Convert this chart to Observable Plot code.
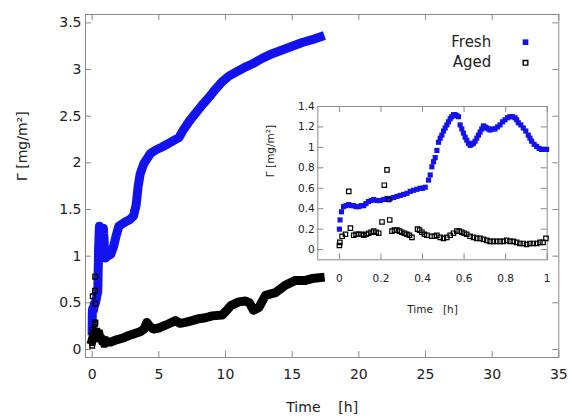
<!DOCTYPE html>
<html><head><meta charset="utf-8">
<script src="https://cdn.jsdelivr.net/npm/d3@7"></script>
<script src="https://cdn.jsdelivr.net/npm/@observablehq/plot@0.6"></script>
<style>
body{margin:0;background:#fff;}
#wrap{position:relative;width:571px;height:416px;font-family:"DejaVu Sans",sans-serif;}
#inset{position:absolute;left:260px;top:95px;}
</style></head><body><div id="wrap"><div id="main"></div><div id="inset"></div></div>
<script>
// ---- data ----
const seriesNames = ["Fresh", "Aged"];
const mainXTicks = [0, 5, 10, 15, 20, 25, 30, 35];
const mainYTicks = [0, 0.5, 1, 1.5, 2, 2.5, 3, 3.5];
const insetXTicks = [0, 0.2, 0.4, 0.6, 0.8, 1];
const insetYTicks = [0, 0.2, 0.4, 0.6, 0.8, 1, 1.2, 1.4];

// first hour (inset), time in h, Γ in mg/m²
const freshEarlyT = [0,0.003,0.01,0.02,0.032,0.045,0.057,0.068,0.08,0.093,0.105,0.117,0.128,0.14,0.153,0.165,0.18,0.197,0.213,0.229,0.245,0.261,0.277,0.293,0.309,0.325,0.341,0.357,0.373,0.389,0.40,0.413,0.429,0.437,0.445,0.453,0.461,0.469,0.477,0.485,0.493,0.501,0.509,0.517,0.525,0.533,0.541,0.549,0.557,0.565,0.573,0.581,0.589,0.597,0.605,0.613,0.621,0.629,0.637,0.645,0.653,0.661,0.669,0.677,0.685,0.693,0.701,0.709,0.717,0.725,0.737,0.749,0.761,0.773,0.785,0.797,0.809,0.821,0.833,0.845,0.853,0.861,0.873,0.885,0.897,0.909,0.917,0.925,0.937,0.949,0.961,0.973,0.985,0.997];
const freshEarlyV = [0.20,0.29,0.37,0.42,0.43,0.44,0.43,0.43,0.42,0.42,0.43,0.43,0.45,0.47,0.48,0.49,0.48,0.48,0.49,0.50,0.50,0.51,0.52,0.53,0.54,0.55,0.57,0.58,0.59,0.60,0.60,0.61,0.68,0.73,0.81,0.86,0.90,0.97,1.05,1.09,1.12,1.16,1.19,1.22,1.25,1.28,1.30,1.32,1.32,1.31,1.30,1.22,1.18,1.14,1.10,1.07,1.04,1.02,1.03,1.04,1.06,1.09,1.12,1.15,1.18,1.21,1.20,1.19,1.18,1.17,1.18,1.18,1.20,1.22,1.25,1.27,1.29,1.30,1.30,1.29,1.27,1.24,1.22,1.19,1.16,1.12,1.09,1.06,1.03,1.01,0.99,0.98,0.98,0.98];

const agedEarlyT = [0,0.002,0.013,0.029,0.045,0.053,0.069,0.08,0.093,0.105,0.117,0.13,0.141,0.153,0.165,0.177,0.189,0.205,0.216,0.229,0.237,0.242,0.253,0.265,0.277,0.289,0.3,0.313,0.325,0.337,0.349,0.376,0.386,0.397,0.409,0.421,0.445,0.457,0.469,0.485,0.501,0.517,0.533,0.549,0.565,0.577,0.589,0.601,0.613,0.629,0.645,0.661,0.677,0.693,0.709,0.725,0.741,0.757,0.773,0.789,0.805,0.821,0.837,0.853,0.869,0.885,0.901,0.917,0.933,0.949,0.965,0.98,0.994];
const agedEarlyV = [0.04,0.07,0.13,0.15,0.57,0.21,0.14,0.15,0.15,0.15,0.14,0.15,0.16,0.17,0.18,0.17,0.16,0.27,0.63,0.78,0.49,0.29,0.18,0.19,0.19,0.18,0.17,0.16,0.15,0.14,0.12,0.20,0.19,0.17,0.15,0.14,0.13,0.13,0.14,0.12,0.11,0.12,0.14,0.16,0.18,0.18,0.17,0.16,0.15,0.13,0.12,0.11,0.11,0.10,0.09,0.08,0.08,0.08,0.08,0.08,0.09,0.08,0.08,0.07,0.06,0.06,0.05,0.06,0.06,0.06,0.07,0.07,0.11];

// full run (main panel)
const freshLateT = [1.15,1.4,1.6,1.8,2.0,2.4,2.8,3.1,3.3,3.45,3.6,3.87,4.37,4.8,5.25,6.0,6.5,6.87,7.3,7.75,8.25,8.75,9.25,9.75,10.25,10.75,11.4,12.0,12.75,13.5,14.25,15.0,15.75,16.5,17.1];
const freshLateV = [1.0,1.02,1.1,1.22,1.32,1.36,1.39,1.43,1.55,1.75,1.88,1.99,2.10,2.14,2.17,2.23,2.27,2.36,2.45,2.53,2.62,2.70,2.79,2.87,2.93,2.97,3.02,3.06,3.12,3.17,3.21,3.25,3.29,3.32,3.35];

const agedRunT = [0,0.1,0.3,0.6,1.0,1.4,1.75,2.25,2.75,3.2,3.6,3.9,4.1,4.3,4.6,5.0,5.5,6.25,6.6,7.0,7.5,8.0,8.5,9.0,9.75,10.1,10.4,11.0,11.5,11.8,12.1,12.5,13.0,13.75,14.5,15.25,16.0,16.5,17.1];
const agedRunV = [0.1,0.15,0.17,0.13,0.08,0.08,0.10,0.12,0.15,0.17,0.19,0.22,0.29,0.25,0.22,0.23,0.26,0.31,0.28,0.29,0.31,0.33,0.34,0.36,0.37,0.42,0.47,0.51,0.52,0.50,0.42,0.45,0.58,0.61,0.69,0.74,0.74,0.76,0.77];

// ---- tables ----
const pts = (T, V) => T.map((t, i) => ({t, v: V[i]}));
const freshEarly = pts(freshEarlyT, freshEarlyV);
const agedEarly = pts(agedEarlyT, agedEarlyV);
const freshRun = freshEarly.concat(pts(freshLateT, freshLateV));
const agedRun = pts(agedRunT, agedRunV);

const BLUE = "#1212ee";
const FRAME = "#8a8a8a";
const TXT = "#222";
const FONT = "DejaVu Sans";

// ---- main chart ----
const W = 571, H = 416, mL = 85, mR = 12.7, mT = 14, mB = 59;
const pW = W - mL - mR, pH = H - mT - mB;
const main = Plot.plot({
  width: W, height: H,
  marginLeft: mL, marginRight: mR, marginTop: mT, marginBottom: mB,
  style: {fontFamily: FONT, fontSize: "14px", color: TXT, background: "transparent"},
  x: {domain: [-0.5, 35]},
  y: {domain: [-0.086, 3.59]},
  marks: [
    Plot.axisX({ticks: mainXTicks, tickSize: 0, tickPadding: 12, tickFormat: d => String(d), label: null, fontSize: 14, fill: TXT}),
    Plot.axisY({ticks: mainYTicks, tickSize: 0, tickPadding: 4, tickFormat: d => String(d), label: null, fontSize: 14, fill: TXT}),
    Plot.ruleY(mainYTicks, {y: d => d, insetRight: pW - 6, stroke: FRAME}),
    Plot.ruleY(mainYTicks, {y: d => d, insetLeft: pW - 6, stroke: FRAME}),
    Plot.ruleX(mainXTicks, {x: d => d, insetTop: pH - 6, stroke: FRAME}),
    Plot.ruleX(mainXTicks, {x: d => d, insetBottom: pH - 6, stroke: FRAME}),
    Plot.frame({stroke: FRAME}),
    Plot.line(freshRun, {x: "t", y: "v", stroke: BLUE, strokeWidth: 9, strokeLinejoin: "round", strokeLinecap: "square"}),
    Plot.line(agedRun, {x: "t", y: "v", stroke: "black", strokeWidth: 9, strokeLinejoin: "round", strokeLinecap: "square"}),
    Plot.dot(agedEarly, {x: "t", y: "v", symbol: "square", r: 2.6, stroke: "black", strokeWidth: 1.4, fill: "none"}),
    Plot.text(["Time\u00a0\u00a0\u00a0\u00a0[h]"], {text: d => d, frameAnchor: "bottom", dy: 50, lineAnchor: "middle", fontSize: 14, fill: TXT}),
    Plot.text(["\u0393 [mg/m\u00b2]"], {text: d => d, frameAnchor: "left", dx: -63, dy: -5, rotate: -90, lineAnchor: "middle", fontSize: 14, fill: TXT}),
    Plot.text([seriesNames[0]], {text: d => d, frameAnchor: "top-right", dx: -67.6, dy: 28, textAnchor: "end", lineAnchor: "middle", fontSize: 15, fill: TXT}),
    Plot.text([seriesNames[1]], {text: d => d, frameAnchor: "top-right", dx: -67.6, dy: 47.7, textAnchor: "end", lineAnchor: "middle", fontSize: 15, fill: TXT}),
    Plot.dot([seriesNames[0]], {frameAnchor: "top-right", dx: -33.3, dy: 27.7, symbol: "square", r: 3.2, fill: BLUE}),
    Plot.dot([seriesNames[1]], {frameAnchor: "top-right", dx: -33.3, dy: 48.3, symbol: "square", r: 2.6, stroke: "black", strokeWidth: 1.4, fill: "none"})
  ]
});
document.getElementById("main").appendChild(main);

// ---- inset chart ----
const iW = 295, iH = 225, iL = 57.3, iR = 8.3, iT = 11, iB = 60.7;
const ipW = iW - iL - iR, ipH = iH - iT - iB;
const inset = Plot.plot({
  width: iW, height: iH,
  marginLeft: iL, marginRight: iR, marginTop: iT, marginBottom: iB,
  style: {fontFamily: FONT, fontSize: "10.5px", color: TXT, background: "transparent"},
  x: {domain: [-0.104, 1]},
  y: {domain: [-0.1, 1.4]},
  marks: [
    Plot.axisX({ticks: insetXTicks, tickSize: 0, tickPadding: 15, tickFormat: d => String(d), label: null, fontSize: 10.5, fill: TXT}),
    Plot.axisY({ticks: insetYTicks, tickSize: 0, tickPadding: 3, tickFormat: d => String(d), label: null, fontSize: 10.5, fill: TXT}),
    Plot.ruleY(insetYTicks, {y: d => d, insetRight: ipW - 6, stroke: FRAME}),
    Plot.ruleY(insetYTicks, {y: d => d, insetLeft: ipW - 6, stroke: FRAME}),
    Plot.ruleX(insetXTicks, {x: d => d, insetTop: ipH - 6, stroke: FRAME}),
    Plot.ruleX(insetXTicks, {x: d => d, insetBottom: ipH - 6, stroke: FRAME}),
    Plot.frame({stroke: FRAME}),
    Plot.dot(freshEarly, {x: "t", y: "v", symbol: "square", r: 2.9, fill: BLUE}),
    Plot.dot(agedEarly, {x: "t", y: "v", symbol: "square", r: 2.5, stroke: "black", strokeWidth: 1.2, fill: "none"}),
    Plot.text(["Time\u00a0\u00a0\u00a0[h]"], {text: d => d, frameAnchor: "bottom", dy: 50, lineAnchor: "middle", fontSize: 10.5, fill: TXT}),
    Plot.text(["\u0393 [mg/m\u00b2]"], {text: d => d, frameAnchor: "left", dx: -47, dy: -6, rotate: -90, lineAnchor: "middle", fontSize: 10.5, fill: TXT})
  ]
});
document.getElementById("inset").appendChild(inset);
</script>
</body></html>
